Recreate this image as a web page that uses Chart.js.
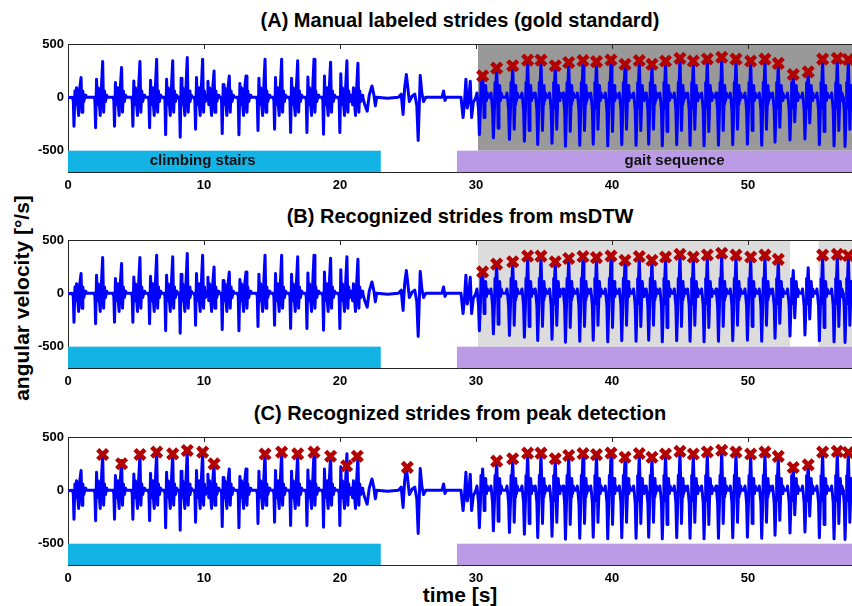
<!DOCTYPE html>
<html><head><meta charset="utf-8">
<script src="https://cdn.jsdelivr.net/npm/chart.js@4"></script>
<style>
body{margin:0;width:852px;height:606px;overflow:hidden;background:#fff;font-family:"Liberation Sans",Arial,sans-serif;position:relative;}
.panel{position:absolute;left:0;width:852px;height:196px;}
.title{position:absolute;left:68px;width:784px;text-align:center;font-weight:bold;font-size:20px;line-height:22px;color:#000;}
.ylab{position:absolute;left:22px;top:298px;transform:translate(-50%,-50%) rotate(-90deg);font-weight:bold;font-size:21px;white-space:nowrap;}
.xlab{position:absolute;left:68px;width:784px;top:584px;text-align:center;font-weight:bold;font-size:21px;line-height:22px;}
</style></head>
<body>
<div class="title" style="top:9px">(A) Manual labeled strides (gold standard)</div>
<div class="title" style="top:205px">(B) Recognized strides from msDTW</div>
<div class="title" style="top:402px">(C) Recognized strides from peak detection</div>
<div class="ylab">angular velocity [°/s]</div>
<div class="xlab">time [s]</div>
<canvas id="pA" class="panel" width="852" height="196" style="top:0px"></canvas>
<canvas id="pB" class="panel" width="852" height="196" style="top:196px"></canvas>
<canvas id="pC" class="panel" width="852" height="196" style="top:393px"></canvas>
<script>
// ---------- data ----------
const xTicks = [0, 10, 20, 30, 40, 50];
const yTicks = [-500, 0, 500];

// climbing stairs strides: main peak time, main peak, pre-peak, deep trough
const stairTime   = [0.96, 2.55, 3.94, 5.29, 6.52, 7.70, 8.77, 9.90, 10.74, 11.86, 13.09, 14.49, 15.71, 16.89, 18.09, 19.31, 20.51, 21.32];
const stairPeak   = [185, 336, 280, 336, 358, 342, 374, 358, 248, 200, 200, 358, 358, 342, 358, 330, 342, 320];
const stairPre    = [60, 170, 138, 154, 160, 170, 180, 185, 150, 120, 130, 180, 185, 180, 190, 200, 220, 150];
const stairTrough = [-270, -285, -270, -270, -285, -350, -374, -300, -418, -340, -350, -310, -300, -330, -330, -345, -330, -395];

// transition between stairs and gait (time, value)
const transT = [21.80, 22.00, 22.15, 22.35, 22.50, 22.60, 22.70, 23.50, 24.30, 24.50, 24.64, 24.75, 24.88, 24.98, 25.10, 25.30, 25.50, 25.65, 25.75, 25.90, 26.02, 26.15, 26.30, 27.50, 27.62, 27.72, 27.82, 28.90, 29.05, 29.15, 29.26, 29.36, 29.46, 29.58, 29.68, 29.80, 29.92];
const transV = [-60, -130, 20, 107, 20, -80, 0, -8, 0, 30, -160, 80, 215, 100, -40, 10, 30, -80, -405, 205, 40, -40, 0, 0, 60, -30, 0, 0, -190, -60, 170, -100, -30, 150, -190, -50, -20];

// gait strides: swing peak time, swing peak, toe-off trough, heel-strike trough
const gaitTime = [30.49, 31.52, 32.70, 33.80, 34.78, 35.83, 36.82, 37.87, 38.86, 39.93, 40.96, 42.01, 42.94, 43.94, 45.00, 45.98, 47.01, 48.07, 49.12, 50.20, 51.25, 52.23, 53.33, 54.43, 55.49, 56.57, 57.38];
const gaitPeak = [201, 274, 296, 349, 349, 296, 327, 345, 335, 350, 310, 345, 310, 340, 365, 340, 360, 375, 358, 340, 358, 318, 214, 239, 358, 365, 355];
const gaitDeep = [-350, -380, -396, -411, -443, -430, -458, -450, -440, -455, -445, -450, -440, -455, -445, -450, -455, -450, -445, -440, -450, -420, -400, -390, -445, -455, -460];
const gaitHeel = [-190, -290, -300, -310, -310, -300, -320, -310, -300, -320, -300, -310, -300, -320, -310, -300, -320, -310, -300, -310, -300, -280, -230, -240, -320, -310, -300];

// stride markers per panel
const markA_T = gaitTime;
const markA_V = gaitPeak;
const markB_T = [30.49, 31.52, 32.70, 33.80, 34.78, 35.83, 36.82, 37.87, 38.86, 39.93, 40.96, 42.01, 42.94, 43.94, 45.00, 45.98, 47.01, 48.07, 49.12, 50.20, 51.25, 52.23, 55.49, 56.57, 57.38];
const markB_V = [201, 274, 296, 349, 349, 296, 327, 345, 335, 350, 310, 345, 310, 340, 365, 340, 360, 375, 358, 340, 358, 318, 358, 365, 355];
const markC_T = [2.55, 3.94, 5.29, 6.52, 7.70, 8.77, 9.90, 10.74, 14.49, 15.71, 16.89, 18.09, 19.31, 20.49, 21.27, 24.95, 31.52, 32.70, 33.80, 34.78, 35.83, 36.82, 37.87, 38.86, 39.93, 40.96, 42.01, 42.94, 43.94, 45.00, 45.98, 47.01, 48.07, 49.12, 50.20, 51.25, 52.23, 53.33, 54.43, 55.49, 56.57, 57.38];
const markC_V = [336, 250, 336, 358, 342, 374, 358, 248, 340, 358, 342, 358, 320, 230, 320, 215, 274, 296, 349, 349, 296, 327, 345, 335, 350, 310, 345, 310, 340, 365, 340, 360, 375, 358, 340, 358, 318, 214, 239, 358, 365, 355];

// activity bars and recognised regions [start, end]
const stairsBar = [0, 23.0];
const gaitBar = [28.6, 58];
const shadeA = [[30.15, 58]];
const shadeB = [[30.15, 53.1], [55.2, 58]];
const barLabels = [['climbing stairs', 9.9], ['gait sequence', 44.6]];

// shapes of one stride (time offset from peak, value or value name)
const stairShape = [[-0.62, 0], [-0.57, -30], [-0.52, 'trough'], [-0.45, 'pre'], [-0.39, -70], [-0.33, 90], [-0.27, -20], [-0.18, -170], [-0.10, 80], [0, 'peak'], [0.07, -140], [0.13, 60], [0.20, -40], [0.30, 20], [0.36, 0]];
const gaitShape = [[-0.50, 0], [-0.42, 40], [-0.36, -30], [-0.30, -120], [-0.24, 'deep'], [-0.16, -100], [-0.12, 140], [-0.08, 40], [0, 'peak'], [0.07, 0], [0.11, 'heel'], [0.17, -60], [0.22, 110], [0.28, -30], [0.34, 40], [0.42, 0]];

// ---------- build the signal ----------
const signal = [];
function add(t, v) { if (!signal.length || t > signal[signal.length - 1].x) signal.push({x: t, y: v}); }
add(0, -5); add(0.30, 0);
stairTime.forEach((T, i) => {
  const vals = {trough: stairTrough[i], pre: stairPre[i], peak: stairPeak[i]};
  stairShape.forEach(([dt, k]) => add(T + dt, typeof k === 'string' ? vals[k] : k));
});
transT.forEach((t, i) => add(t, transV[i]));
gaitTime.forEach((T, i) => {
  const vals = {deep: gaitDeep[i], peak: gaitPeak[i], heel: gaitHeel[i]};
  gaitShape.forEach(([dt, k]) => add(T + dt, typeof k === 'string' ? vals[k] : k));
});

const XMAX = 57.65, YMIN = -700, YMAX = 500;
const FONT = '"Liberation Sans", Arial, sans-serif';

const regionPlugin = {
  id: 'regions',
  beforeDatasetsDraw(chart, args, o) {
    const {ctx, chartArea: a, scales: {x, y}} = chart;
    ctx.save();
    ctx.beginPath(); ctx.rect(a.left, a.top, a.right - a.left, a.bottom - a.top); ctx.clip();
    (o.shade || []).forEach(([s, e]) => {
      ctx.fillStyle = o.shadeColor;
      const x0 = x.getPixelForValue(s), x1 = x.getPixelForValue(e);
      const y0 = y.getPixelForValue(YMAX), y1 = y.getPixelForValue(-500);
      ctx.fillRect(x0, y0, x1 - x0, y1 - y0);
    });
    const bar = (r, col) => {
      const x0 = x.getPixelForValue(r[0]), x1 = x.getPixelForValue(r[1]);
      const y0 = y.getPixelForValue(-500), y1 = y.getPixelForValue(YMIN);
      ctx.fillStyle = col; ctx.fillRect(x0, y0, x1 - x0, y1 - y0);
    };
    bar(stairsBar, '#13b3e6');
    bar(gaitBar, '#bb9be5');
    if (o.labels) {
      ctx.fillStyle = '#111';
      ctx.font = 'bold 15px ' + FONT;
      ctx.textAlign = 'center'; ctx.textBaseline = 'middle';
      const ym = y.getPixelForValue(-595);
      barLabels.forEach(([txt, t]) => ctx.fillText(txt, x.getPixelForValue(t), ym));
    }
    ctx.restore();
  },
  afterDraw(chart) {
    const {ctx, chartArea: a, scales: {x}} = chart;
    ctx.save();
    ctx.strokeStyle = '#262626'; ctx.lineWidth = 1;
    ctx.beginPath();
    ctx.moveTo(a.left, a.top + 0.5); ctx.lineTo(a.right, a.top + 0.5);
    xTicks.forEach(v => { const px = Math.round(x.getPixelForValue(v)) + 0.5; ctx.moveTo(px, a.top); ctx.lineTo(px, a.top + 5); });
    ctx.stroke();
    ctx.restore();
  }
};

function makeChart(id, marksT, marksV, opts) {
  const marks = marksT.map((t, i) => ({x: t, y: marksV[i]}));
  return new Chart(document.getElementById(id), {
    type: 'line',
    data: {datasets: [
      {type: 'scatter', data: marks, pointStyle: 'crossRot', pointRadius: 7, pointBorderWidth: 4.5, borderColor: '#b30000', backgroundColor: '#b30000', order: 0},
      {type: 'line', data: signal, borderColor: '#0000ff', borderWidth: 3, pointRadius: 0, tension: 0, borderJoinStyle: 'round', fill: false, order: 1}
    ]},
    options: {
      responsive: false, animation: false, devicePixelRatio: 1,
      layout: {autoPadding: false, padding: {top: 44, left: 0, right: 0, bottom: 0}},
      plugins: {legend: {display: false}, tooltip: {enabled: false}, regions: opts},
      scales: {
        x: {type: 'linear', min: 0, max: XMAX,
            afterBuildTicks: s => { s.ticks = xTicks.map(v => ({value: v})); },
            afterFit: s => { s.height = 24; s.paddingLeft = 0; s.paddingRight = 0; },
            grid: {display: false, drawTicks: false},
            border: {display: true, color: '#262626', width: 1},
            ticks: {color: '#000', padding: 6, maxRotation: 0, font: {family: FONT, size: 13, weight: 'bold'}}},
        y: {type: 'linear', min: YMIN, max: YMAX,
            afterBuildTicks: s => { s.ticks = yTicks.map(v => ({value: v})); },
            afterFit: s => { s.width = 68; s.paddingTop = 0; s.paddingBottom = 0; },
            grid: {display: false, drawTicks: false},
            border: {display: true, color: '#262626', width: 1},
            ticks: {color: '#000', padding: 4, font: {family: FONT, size: 13, weight: 'bold'}}}
      }
    },
    plugins: [regionPlugin]
  });
}
makeChart('pA', markA_T, markA_V, {shade: shadeA, shadeColor: '#999999', labels: true});
makeChart('pB', markB_T, markB_V, {shade: shadeB, shadeColor: '#dcdcdc', labels: false});
makeChart('pC', markC_T, markC_V, {shade: [], shadeColor: '#fff', labels: false});
</script>
</body></html>
